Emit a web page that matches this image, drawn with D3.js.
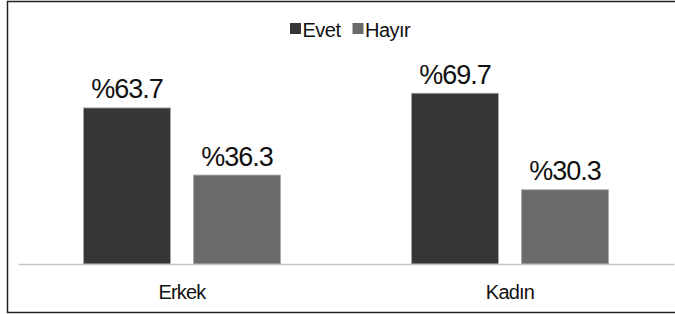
<!DOCTYPE html>
<html>
<head>
<meta charset="utf-8">
<script src="https://cdn.jsdelivr.net/npm/d3@7"></script>
<style>
  body { margin: 0; background: #fff; }
  svg { display: block; font-family: "Liberation Sans", Arial, sans-serif; }
</style>
</head>
<body>
<svg id="chart" width="675" height="314"></svg>
<script>
// data
var categories = ["Erkek", "Kadın"];
var seriesNames = ["Evet", "Hayır"];
var evet = [63.7, 69.7];
var hayir = [36.3, 30.3];
var colors = ["#363636", "#6a6a6a"];

var svg = d3.select("#chart");

// frame (right side runs off the picture)
svg.append("rect")
    .attr("x", 7.5).attr("y", 1.5)
    .attr("width", 680).attr("height", 311)
    .attr("fill", "#fff")
    .attr("stroke", "#222")
    .attr("stroke-width", 1.5);

var plot = { left: 18, right: 674, top: 40, bottom: 264 };

var x0 = d3.scaleBand()
    .domain(categories)
    .range([plot.left, plot.right])
    .paddingInner(0)
    .paddingOuter(0);
var step = x0.step();
var groupW = 197;

var x1 = d3.scaleBand()
    .domain(seriesNames)
    .range([0, groupW])
    .paddingInner(0.21)
    .paddingOuter(0);

var y = d3.scaleLinear()
    .domain([0, 80])
    .range([plot.bottom, plot.bottom - 80 * 2.45]);

var rows = categories.map(function(c, i) {
    return { cat: c, vals: [evet[i], hayir[i]] };
});

var groups = svg.selectAll("g.grp")
    .data(rows)
    .enter().append("g")
    .attr("class", "grp")
    .attr("transform", function(d) {
        return "translate(" + (x0(d.cat) + (step - groupW) / 2) + ",0)";
    });

groups.selectAll("rect")
    .data(function(d) { return d.vals.map(function(v, j) { return { s: seriesNames[j], v: v, j: j }; }); })
    .enter().append("rect")
    .attr("x", function(d) { return x1(d.s); })
    .attr("y", function(d) { return y(d.v); })
    .attr("width", x1.bandwidth())
    .attr("height", function(d) { return y(0) - y(d.v); })
    .attr("fill", function(d) { return colors[d.j]; })
    .attr("stroke", "#a8a8a8")
    .attr("stroke-width", 0.8);

groups.selectAll("text.val")
    .data(function(d) { return d.vals.map(function(v, j) { return { s: seriesNames[j], v: v }; }); })
    .enter().append("text")
    .attr("class", "val")
    .attr("x", function(d) { return x1(d.s) + x1.bandwidth() / 2; })
    .attr("y", function(d) { return y(d.v) - 9.5; })
    .attr("text-anchor", "middle")
    .attr("font-size", 27)
    .attr("letter-spacing", -1)
    .attr("fill", "#111")
    .text(function(d) { return "%" + d.v.toFixed(1); });

// baseline axis
var xAxis = d3.axisBottom(x0).tickSize(0).tickPadding(0);
var ax = svg.append("g")
    .attr("transform", "translate(0," + plot.bottom + ")")
    .call(xAxis);
ax.select(".domain").attr("stroke", "#c4c4c4").attr("stroke-width", 1.5);
ax.selectAll("text")
    .attr("dy", 0)
    .attr("y", 35)
    .attr("font-size", 20)
    .attr("letter-spacing", -0.8)
    .attr("font-family", "Liberation Sans, Arial, sans-serif")
    .attr("fill", "#111");

// legend
var legend = svg.append("g").attr("transform", "translate(290,23)");
var lx = [0, 62.5];
seriesNames.forEach(function(n, i) {
    legend.append("rect")
        .attr("x", lx[i]).attr("y", 0)
        .attr("width", 11).attr("height", 11)
        .attr("fill", colors[i]);
    legend.append("text")
        .attr("x", lx[i] + 12.5).attr("y", 13.7)
        .attr("font-size", 20)
        .attr("letter-spacing", -0.5)
        .attr("fill", "#111")
        .text(n);
});
</script>
</body>
</html>
